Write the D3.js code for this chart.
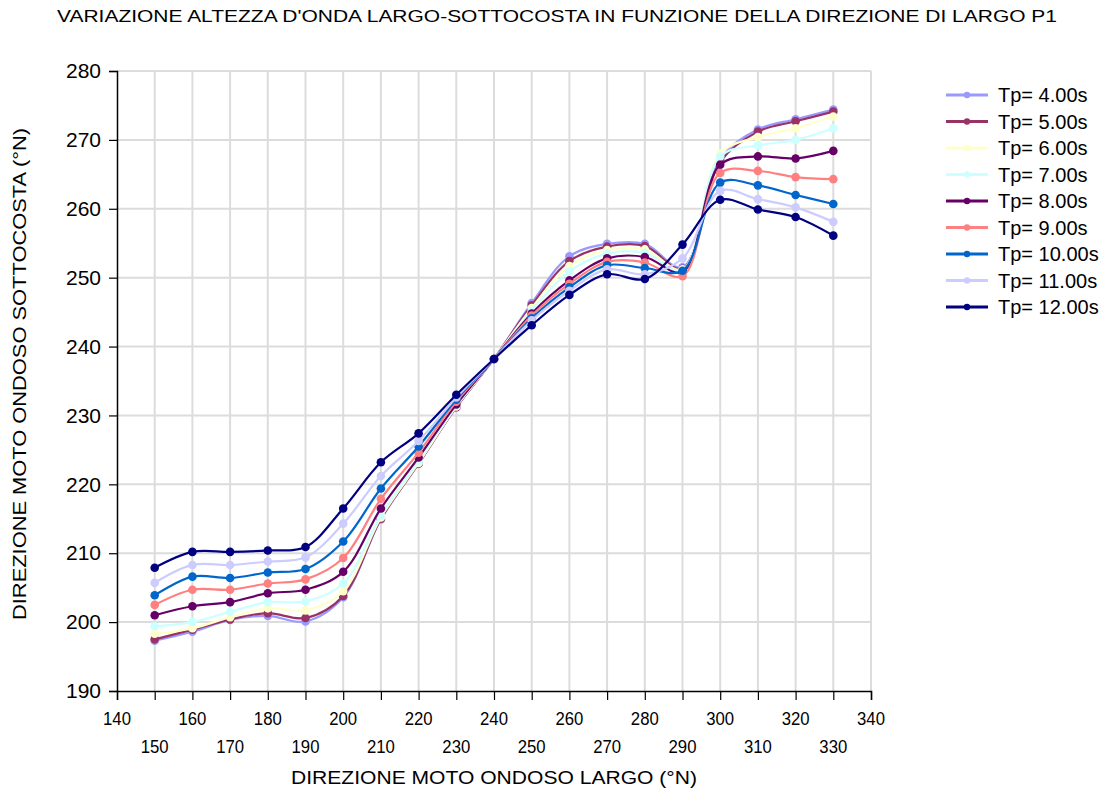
<!DOCTYPE html>
<html>
<head>
<meta charset="utf-8">
<script src="https://cdn.jsdelivr.net/npm/d3@7/dist/d3.min.js"></script>
<style>
  html, body { margin: 0; padding: 0; background: #fff; }
  svg { display: block; font-family: "Liberation Sans", Arial, sans-serif; }
</style>
</head>
<body>
<svg id="chart" width="1110" height="794"></svg>
<script>
// Offshore wave direction (°N)
const directions = [150, 160, 170, 180, 190, 200, 210, 220, 230, 240, 250, 260, 270, 280, 290, 300, 310, 320, 330];

// Nearshore wave direction (°N) for each peak period
const tp4  = [197.3, 198.6, 200.3, 200.9, 200.1, 203.6, 214.9, 223.0, 231.2, 238.2, 246.3, 253.1, 254.9, 254.9, 251.5, 267.2, 271.5, 273.0, 274.4];
const tp5  = [197.5, 198.9, 200.4, 201.3, 200.6, 203.8, 215.0, 223.0, 231.2, 238.2, 246.0, 252.4, 254.5, 254.6, 251.3, 266.8, 271.2, 272.7, 274.1];
const tp6  = [198.3, 199.1, 200.7, 202.0, 201.7, 204.5, 215.2, 223.1, 231.3, 238.2, 245.6, 251.7, 254.0, 254.1, 251.2, 268.0, 270.4, 271.7, 273.4];
const tp7  = [199.4, 200.0, 201.5, 202.9, 203.0, 205.6, 215.5, 223.4, 231.4, 238.2, 245.2, 250.9, 253.5, 253.6, 251.0, 267.6, 269.2, 270.0, 271.7];
const tp8  = [201.0, 202.3, 202.9, 204.2, 204.7, 207.3, 216.5, 223.9, 231.6, 238.2, 244.8, 249.6, 252.8, 253.0, 250.8, 266.4, 267.6, 267.3, 268.4];
const tp9  = [202.5, 204.7, 204.7, 205.6, 206.2, 209.3, 217.9, 224.6, 232.0, 238.2, 244.5, 249.1, 252.3, 252.2, 250.2, 265.2, 265.5, 264.6, 264.3];
const tp10 = [203.9, 206.6, 206.4, 207.2, 207.7, 211.7, 219.4, 225.5, 232.3, 238.2, 244.1, 248.6, 251.8, 251.4, 251.0, 263.8, 263.4, 262.0, 260.7];
const tp11 = [205.7, 208.3, 208.3, 208.8, 209.4, 214.3, 221.2, 226.3, 232.6, 238.2, 243.8, 248.1, 251.2, 250.5, 252.8, 262.6, 261.4, 260.2, 258.1];
const tp12 = [207.9, 210.2, 210.2, 210.4, 210.9, 216.5, 223.2, 227.4, 233.0, 238.2, 243.1, 247.5, 250.5, 249.8, 254.8, 261.3, 259.9, 258.8, 256.1];

const seriesNames  = ["Tp= 4.00s", "Tp= 5.00s", "Tp= 6.00s", "Tp= 7.00s", "Tp= 8.00s", "Tp= 9.00s", "Tp= 10.00s", "Tp= 11.00s", "Tp= 12.00s"];
const seriesValues = [tp4, tp5, tp6, tp7, tp8, tp9, tp10, tp11, tp12];
const seriesColors = ["#9999ff", "#993366", "#ffffcc", "#ccffff", "#660066", "#ff8080", "#0066cc", "#ccccff", "#000080"];

const xTicks = d3.range(140, 341, 10);
const yTicks = d3.range(190, 281, 10);

const titleText  = "VARIAZIONE ALTEZZA D'ONDA LARGO-SOTTOCOSTA IN FUNZIONE DELLA DIREZIONE DI LARGO P1";
const xAxisTitle = "DIREZIONE MOTO ONDOSO LARGO (°N)";
const yAxisTitle = "DIREZIONE MOTO ONDOSO SOTTOCOSTA (°N)";

const svg = d3.select("#chart");
const plot = { left: 117, right: 871, top: 71, bottom: 691 };

const x = d3.scaleLinear().domain([140, 340]).range([plot.left, plot.right]);
const y = d3.scaleLinear().domain([190, 280]).range([plot.bottom, plot.top]);

// Gridlines
const grid = svg.append("g").attr("stroke", "#dcdcdc").attr("stroke-width", 2);
grid.selectAll("line.v").data(xTicks.filter(d => d > 140)).join("line")
  .attr("x1", d => x(d)).attr("x2", d => x(d))
  .attr("y1", plot.top).attr("y2", plot.bottom);
grid.selectAll("line.h").data(yTicks.filter(d => d > 190)).join("line")
  .attr("x1", plot.left).attr("x2", plot.right)
  .attr("y1", d => y(d)).attr("y2", d => y(d));

// Y axis
const yAxis = svg.append("g")
  .attr("transform", `translate(${plot.left},0)`)
  .call(d3.axisLeft(y).tickValues(yTicks).tickSize(8).tickPadding(8).tickFormat(d3.format("d")));
yAxis.select(".domain").attr("stroke", "#000").attr("stroke-width", 1.5);
yAxis.selectAll(".tick line").attr("stroke", "#000").attr("stroke-width", 1.2);
yAxis.selectAll(".tick text")
  .attr("font-family", "'Liberation Sans', Arial, sans-serif")
  .attr("font-size", 21).attr("fill", "#000");

// X axis with staggered labels
const xAxis = svg.append("g")
  .attr("transform", `translate(0,${plot.bottom})`)
  .call(d3.axisBottom(x).tickValues(xTicks).tickSize(9).tickFormat(""));
xAxis.select(".domain").attr("stroke", "#000").attr("stroke-width", 1.5);
xAxis.selectAll(".tick line").attr("stroke", "#000").attr("stroke-width", 1.2);

svg.append("g").selectAll("text").data(xTicks).join("text")
  .attr("x", d => x(d))
  .attr("y", (d, i) => i % 2 === 0 ? 725 : 753)
  .attr("text-anchor", "middle")
  .attr("font-size", 19)
  .attr("transform", d => `translate(${x(d)},0) scale(0.88,1) translate(${-x(d)},0)`)
  .text(d => d);

// Titles
svg.append("text")
  .attr("x", 57).attr("y", 22)
  .attr("font-size", 17)
  .attr("textLength", 1000).attr("lengthAdjust", "spacingAndGlyphs")
  .text(titleText);

svg.append("text")
  .attr("x", 291).attr("y", 784)
  .attr("font-size", 19)
  .attr("textLength", 406).attr("lengthAdjust", "spacingAndGlyphs")
  .text(xAxisTitle);

svg.append("text")
  .attr("transform", "translate(26,620) rotate(-90)")
  .attr("font-size", 19)
  .attr("textLength", 492).attr("lengthAdjust", "spacingAndGlyphs")
  .text(yAxisTitle);

// Series
const line = d3.line()
  .x((d, i) => x(directions[i]))
  .y(d => y(d))
  .curve(d3.curveCatmullRom.alpha(0.5));

const seriesG = svg.append("g");
seriesValues.forEach((vals, k) => {
  const g = seriesG.append("g");
  g.append("path")
    .attr("d", line(vals))
    .attr("fill", "none")
    .attr("stroke", seriesColors[k])
    .attr("stroke-width", 2.2);
  g.selectAll("circle").data(vals).join("circle")
    .attr("cx", (d, i) => x(directions[i]))
    .attr("cy", d => y(d))
    .attr("r", 4.3)
    .attr("fill", seriesColors[k]);
});

// Legend
const legend = svg.append("g");
seriesNames.forEach((name, k) => {
  const ly = 95 + k * 26.5;
  legend.append("line")
    .attr("x1", 946).attr("x2", 988).attr("y1", ly).attr("y2", ly)
    .attr("stroke", seriesColors[k]).attr("stroke-width", 3);
  legend.append("circle")
    .attr("cx", 967).attr("cy", ly).attr("r", 3.2)
    .attr("fill", seriesColors[k]);
  legend.append("text")
    .attr("x", 998).attr("y", ly + 7)
    .attr("font-size", 20)
    .text(name);
});
</script>
</body>
</html>
